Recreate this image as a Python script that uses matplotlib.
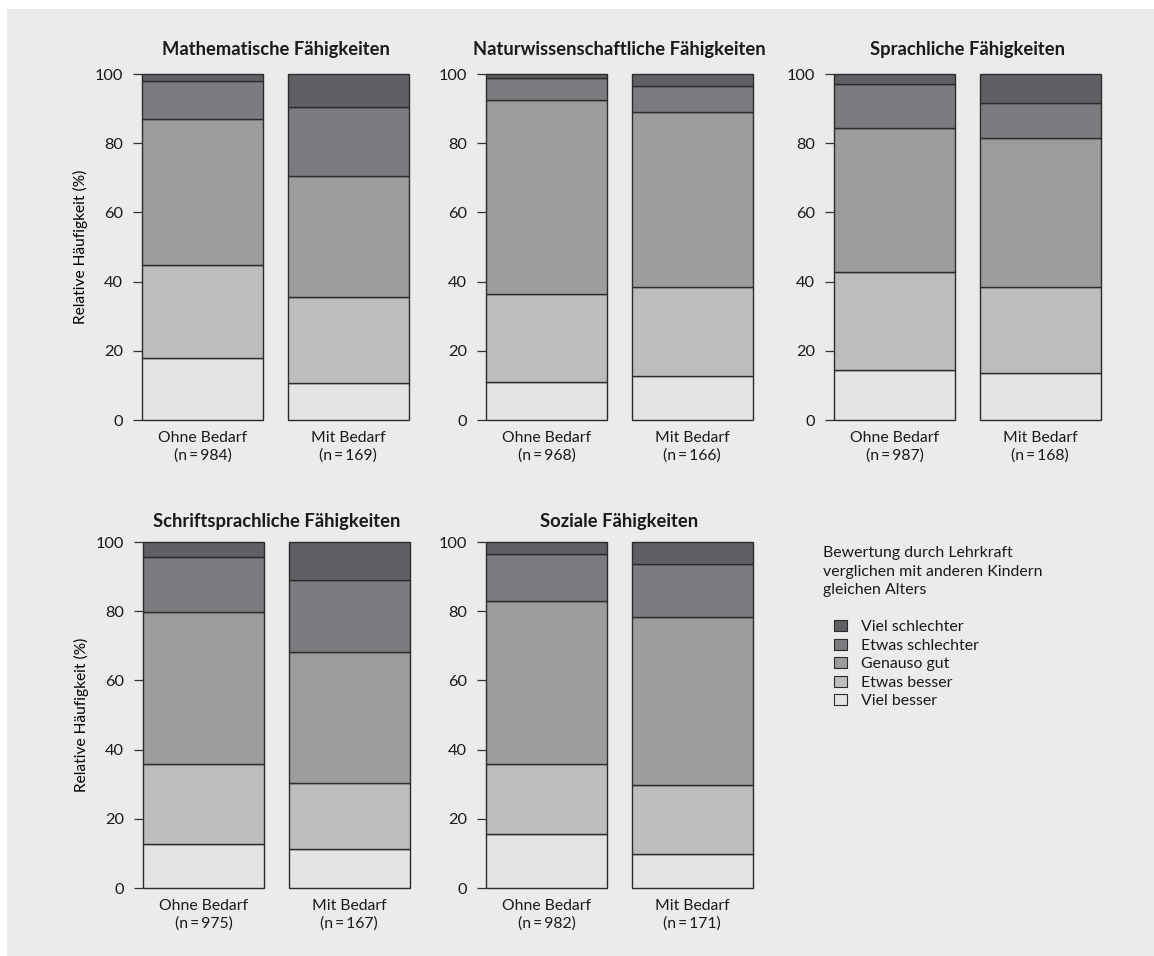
import matplotlib
matplotlib.use("Agg")
import matplotlib.pyplot as plt
from matplotlib.patches import Rectangle, Patch

plt.rcParams["font.family"] = ["Lato", "DejaVu Sans"]
plt.rcParams["text.color"] = "#1a1a1a"

# Teacher ratings, relative frequency (%) per group: [Ohne Bedarf, Mit Bedarf]
panel_titles = [
    "Mathematische Fähigkeiten",
    "Naturwissenschaftliche Fähigkeiten",
    "Sprachliche Fähigkeiten",
    "Schriftsprachliche Fähigkeiten",
    "Soziale Fähigkeiten",
]
groups = ["Ohne Bedarf", "Mit Bedarf"]
group_n = [[984, 169], [968, 166], [987, 168], [975, 167], [982, 171]]

viel_besser = [[17.8, 10.6], [11.1, 12.7], [14.5, 13.6], [12.7, 11.3], [15.6, 9.8]]
etwas_besser = [[27.0, 24.9], [25.2, 25.7], [28.4, 24.9], [23.0, 19.1], [20.1, 19.9]]
genauso_gut = [[42.1, 34.9], [56.2, 50.7], [41.4, 43.1], [44.2, 37.8], [47.2, 48.5]]
etwas_schlechter = [[11.2, 20.2], [6.2, 7.4], [12.7, 10.1], [15.9, 20.9], [13.7, 15.3]]
viel_schlechter = [[1.9, 9.4], [1.3, 3.5], [3.0, 8.3], [4.2, 10.9], [3.4, 6.5]]

level_labels = ["Viel besser", "Etwas besser", "Genauso gut",
                "Etwas schlechter", "Viel schlechter"]
level_values = [viel_besser, etwas_besser, genauso_gut,
                etwas_schlechter, viel_schlechter]
level_colors = ["#e3e4e6", "#bcbdbf", "#9b9c9e", "#7b7c7f", "#5f6063"]

legend_title = ("Bewertung durch Lehrkraft\n"
                "verglichen mit anderen Kindern\n"
                "gleichen Alters")

W, H = 1154, 956
fig = plt.figure(figsize=(W / 100, H / 100), dpi=100)
fig.patch.set_facecolor("white")
fig.add_artist(Rectangle((7 / W, 0), 1 - 7 / W, 1 - 9 / H,
                         transform=fig.transFigure, facecolor="#ebebeb",
                         edgecolor="none", zorder=-10))

# axes boxes in pixels: (left, top)
boxes = [(142, 74), (486, 74), (834, 74), (143, 542), (486, 542)]
ax_w, ax_h = 267, 346
edge = "#2b2b2b"
bar_w = 0.834

for i, (left, top) in enumerate(boxes):
    ax = fig.add_axes([left / W, 1 - (top + ax_h) / H, ax_w / W, ax_h / H])
    ax.patch.set_visible(False)
    x = range(len(groups))
    bottom = [0.0, 0.0]
    for vals, col in zip(level_values, level_colors):
        seg = vals[i]
        ax.bar(x, seg, bottom=bottom, width=bar_w, color=col,
               edgecolor=edge, linewidth=1.0, clip_on=False)
        bottom = [b + s for b, s in zip(bottom, seg)]
    ax.set_xlim(-0.5 * bar_w, 1 + 0.5 * bar_w)
    ax.set_ylim(0, 100)
    for s in ax.spines.values():
        s.set_visible(False)
    ax.set_yticks([0, 20, 40, 60, 80, 100])
    ax.tick_params(axis="y", length=6.5, width=0.9, color="#333333",
                   pad=7, labelsize=11.8, labelcolor="#1a1a1a")
    ax.set_xticks(list(x))
    ax.set_xticklabels([f"{g}\n(n\u2009=\u2009{n})" for g, n in zip(groups, group_n[i])],
                       fontsize=11.3, linespacing=1.25)
    ax.tick_params(axis="x", length=0, pad=8, labelcolor="#1a1a1a")
    ax.set_title(panel_titles[i], fontsize=13.2, fontweight="bold",
                 pad=14 if top < 100 else 11)
    if left < 200:
        ax.set_ylabel("Relative Häufigkeit (%)", fontsize=11.2, labelpad=5)

fig.text(823 / W, 1 - 546 / H, legend_title, ha="left", va="top",
         fontsize=11.4, linespacing=1.42)
handles = [Patch(facecolor=c, edgecolor=edge, linewidth=0.8)
           for c in level_colors][::-1]
fig.legend(handles, level_labels[::-1], loc="upper left",
           bbox_to_anchor=(834 / W, 1 - 620 / H), frameon=False,
           fontsize=11.4, handlelength=0.85, handleheight=0.7,
           handletextpad=0.85, labelspacing=0.28, borderaxespad=0,
           borderpad=0)

fig.savefig("out.png", dpi=100)
